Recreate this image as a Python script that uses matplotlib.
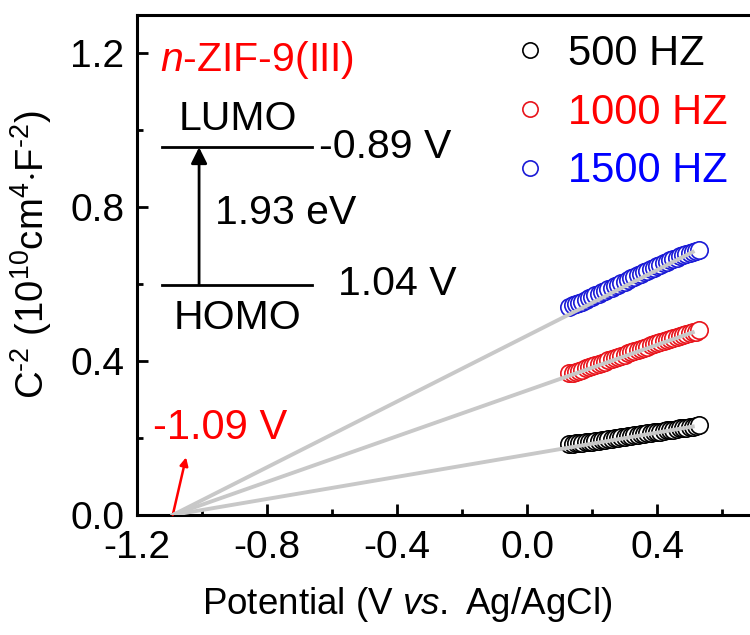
import numpy as np
import matplotlib.pyplot as plt
from matplotlib.lines import Line2D

plt.rcParams['font.family'] = ['Liberation Sans', 'DejaVu Sans']
plt.rcParams['mathtext.fontset'] = 'custom'
plt.rcParams['mathtext.rm'] = 'Liberation Sans'
plt.rcParams['mathtext.it'] = 'Liberation Sans:italic'
plt.rcParams['axes.unicode_minus'] = False

# potential (V vs. Ag/AgCl)
potential = [0.13, 0.14, 0.15, 0.16, 0.17, 0.18, 0.19, 0.20, 0.21, 0.22,
             0.23, 0.24, 0.25, 0.26, 0.27, 0.28, 0.29, 0.30, 0.31, 0.32,
             0.33, 0.34, 0.35, 0.36, 0.37, 0.38, 0.39, 0.40, 0.41, 0.42,
             0.43, 0.44, 0.45, 0.46, 0.47, 0.48, 0.49, 0.50, 0.51, 0.52,
             0.53]
# C^-2 values for each frequency
c500 = [0.184, 0.185, 0.186, 0.187, 0.188, 0.189, 0.190, 0.191, 0.192, 0.193,
        0.195, 0.196, 0.197, 0.198, 0.200, 0.201, 0.202, 0.203, 0.205, 0.206,
        0.207, 0.208, 0.210, 0.211, 0.212, 0.213, 0.215, 0.216, 0.217, 0.218,
        0.220, 0.221, 0.222, 0.223, 0.225, 0.226, 0.227, 0.228, 0.230, 0.231,
        0.233]
c1000 = [0.368, 0.370, 0.373, 0.375, 0.378, 0.381, 0.384, 0.387, 0.390, 0.393,
         0.396, 0.399, 0.402, 0.405, 0.408, 0.411, 0.414, 0.417, 0.420, 0.423,
         0.426, 0.429, 0.432, 0.435, 0.438, 0.441, 0.444, 0.447, 0.450, 0.452,
         0.455, 0.457, 0.460, 0.462, 0.465, 0.467, 0.470, 0.472, 0.475, 0.477,
         0.480]
c1500 = [0.542, 0.545, 0.548, 0.551, 0.555, 0.559, 0.563, 0.567, 0.571, 0.575,
         0.579, 0.583, 0.587, 0.591, 0.595, 0.599, 0.603, 0.607, 0.611, 0.615,
         0.619, 0.623, 0.627, 0.631, 0.635, 0.639, 0.643, 0.647, 0.651, 0.655,
         0.659, 0.662, 0.666, 0.669, 0.673, 0.676, 0.679, 0.682, 0.684, 0.687,
         0.689]
labels = ['500 HZ', '1000 HZ', '1500 HZ']
colors = ['black', '#e8141b', '#1a1ad6']
text_colors = ['black', '#ff0000', '#0000ff']

v_fb = -1.09   # flat band potential
lumo, homo = -0.89, 1.04
gap = 1.93

fig = plt.figure(figsize=(7.5, 6.35), dpi=100)
# axes runs past the right edge of the figure (cropped in the original)
ax = fig.add_axes([137/750, 120/635, 617.5/750, 500/635])

for ys, c in zip([c500, c1000, c1500], colors):
    ax.plot(potential, ys, 'o', ms=12.5, mfc='white', mec=c, mew=1.2, zorder=3)
    # fitted line down to the x intercept
    ax.plot([v_fb, potential[-3]], [0, ys[-3]], color='#c8c8c8', lw=2.8, zorder=4)

ax.set_xlim(-1.2, 0.7)
ax.set_ylim(0, 1.3)
ax.set_xticks([-1.2, -0.8, -0.4, 0.0, 0.4])
ax.set_xticks([-1.0, -0.6, -0.2, 0.2, 0.6], minor=True)
ax.set_yticks([0.0, 0.4, 0.8, 1.2])
ax.set_yticks([0.2, 0.6, 1.0], minor=True)
ax.xaxis.set_major_formatter(plt.FormatStrFormatter('%.1f'))
ax.yaxis.set_major_formatter(plt.FormatStrFormatter('%.1f'))
ax.tick_params(which='both', direction='in', width=2, labelsize=28)
ax.tick_params(which='major', length=8)
ax.tick_params(which='minor', length=4)
ax.tick_params(axis='x', pad=11)
ax.tick_params(axis='y', pad=9)
for s in ax.spines.values():
    s.set_linewidth(2.2)
ax.spines['right'].set_visible(False)

ax.set_xlabel(r'Potential (V $\mathit{vs.}$ Ag/AgCl)', fontsize=26.5)
ax.xaxis.set_label_coords(0.437, -0.14)
ax.set_ylabel(r'C$^{\text{-2}}$ (10$^{\text{10}}$cm$^{\text{4}}$$\cdot$F$^{\text{-2}}$)', fontsize=27.5)
ax.yaxis.set_label_coords(-0.135, 0.52)

# legend
handles = [Line2D([], [], ls='none', marker='o', ms=11, mfc='white', mec=c, mew=1.2)
           for c in colors]
leg = ax.legend(handles, labels, loc='upper left', bbox_to_anchor=(0.603, 0.962),
                frameon=False, fontsize=30, handletextpad=0.4, labelspacing=0.45,
                handlelength=1.0, borderaxespad=0, borderpad=0)
for t, c in zip(leg.get_texts(), text_colors):
    t.set_color(c)

# band diagram inset
ax.text(-1.129, 1.182, r'$\mathit{n}$-ZIF-9(III)', color='#ff0000', fontsize=29.5,
        ha='left', va='center')
ax.plot([-1.123, -0.662], [0.956, 0.956], color='black', lw=2)
ax.plot([-1.123, -0.662], [0.599, 0.599], color='black', lw=2)
ax.annotate('', xy=(-1.009, 0.956), xytext=(-1.009, 0.599),
            arrowprops=dict(arrowstyle='-|>', color='black', lw=2, mutation_scale=24,
                            shrinkA=0, shrinkB=0))
ax.text(-0.89, 1.029, 'LUMO', fontsize=29.5, ha='center', va='center')
ax.text(-0.89, 0.511, 'HOMO', fontsize=29.5, ha='center', va='center')
ax.text(-0.64, 0.956, '%.2f V' % lumo, fontsize=29.5, ha='left', va='center')
ax.text(-0.582, 0.601, '%.2f V' % homo, fontsize=29.5, ha='left', va='center')
ax.text(-0.96, 0.785, '%.2f eV' % gap, fontsize=29.5, ha='left', va='center')

# flat band annotation
ax.annotate('', xy=(-1.049, 0.15), xytext=(v_fb, 0),
            arrowprops=dict(arrowstyle='-|>', color='#ff0000', lw=1.8, mutation_scale=12,
                            shrinkA=0, shrinkB=0))
ax.text(-1.151, 0.2255, '%.2f V' % v_fb, color='#ff0000', fontsize=30, ha='left', va='center')

fig.savefig('out.png', dpi=100)
